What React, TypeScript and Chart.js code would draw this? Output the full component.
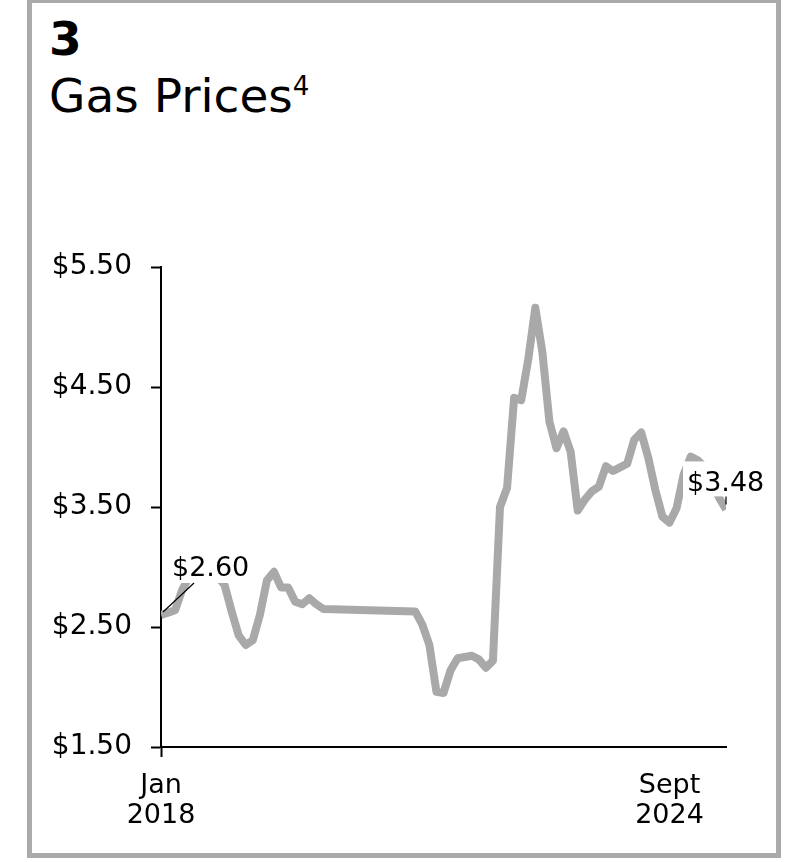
import React, { useEffect, useRef } from 'react';
import { Chart, registerables } from 'chart.js';

Chart.register(...registerables);

// Month index counted from Jan 2018 (0) to Sept 2024 (80)
const MONTHS = [
  0, 1, 2, 3, 4, 5, 6, 7, 8, 9, 10, 11, 12, 13, 14, 15, 16, 17, 18, 19, 20, 21, 22, 23,
  36, 37, 38, 39, 40, 41, 42, 43, 44, 45, 46, 47, 48, 49, 50, 51, 52, 53, 54, 55, 56, 57, 58,
  59, 60, 61, 62, 63, 64, 65, 66, 67, 68, 69, 70, 71, 72, 73, 74, 75, 76, 77, 78, 79, 80,
];
const PRICES = [
  2.6, 2.62, 2.64, 2.81, 2.92, 2.95, 2.96, 2.93, 2.92, 2.85, 2.63, 2.43, 2.35, 2.39, 2.6, 2.89,
  2.96, 2.83, 2.83, 2.71, 2.69, 2.74, 2.69, 2.65,
  2.63, 2.52, 2.35, 1.96, 1.95, 2.14, 2.24, 2.25, 2.26, 2.23, 2.16, 2.22, 3.5, 3.66, 4.41, 4.39,
  4.73, 5.16, 4.79, 4.21, 3.99, 4.13, 3.96,
  3.47, 3.56, 3.63, 3.67, 3.84, 3.8, 3.83, 3.86, 4.06, 4.12, 3.91, 3.64, 3.42, 3.37, 3.49, 3.77,
  3.92, 3.89, 3.83, 3.71, 3.58, 3.48,
];
const Y_TICKS = [1.5, 2.5, 3.5, 4.5, 5.5];
const X_TICK_MONTHS = [0, 72];
const X_TICK_LABELS = [
  ['Jan', '2018'],
  ['Sept', '2024'],
];
const START_LABEL = '$2.60';
const END_LABEL = '$3.48';

const FONT = "'DejaVu Sans', sans-serif";
const LINE_COLOR = '#a9a9a9';

const labelPlugin = {
  id: 'endLabels',
  afterDatasetsDraw(chart: any) {
    const ctx = chart.ctx as CanvasRenderingContext2D;
    const pts = chart.getDatasetMeta(0).data;
    const p0 = pts[0];
    const pN = pts[pts.length - 1];
    ctx.save();
    ctx.font = `27px ${FONT}`;
    ctx.textAlign = 'left';
    ctx.textBaseline = 'alphabetic';

    // start label
    const w0 = ctx.measureText(START_LABEL).width;
    ctx.fillStyle = '#fff';
    ctx.fillRect(p0.x + 7, p0.y - 68, w0 + 12, 36);
    ctx.strokeStyle = '#000';
    ctx.lineWidth = 1.2;
    ctx.beginPath();
    ctx.moveTo(p0.x + 2, p0.y - 3);
    ctx.lineTo(p0.x + 33, p0.y - 32);
    ctx.stroke();
    ctx.fillStyle = '#000';
    ctx.fillText(START_LABEL, p0.x + 11, p0.y - 39);

    // end label
    const w1 = ctx.measureText(END_LABEL).width;
    ctx.fillStyle = '#fff';
    ctx.fillRect(pN.x - 43, pN.y - 48, w1 + 10, 35);
    ctx.strokeStyle = '#000';
    ctx.beginPath();
    ctx.moveTo(pN.x, pN.y - 5);
    ctx.lineTo(pN.x, pN.y - 13);
    ctx.stroke();
    ctx.fillStyle = '#000';
    ctx.fillText(END_LABEL, pN.x - 39, pN.y - 18);
    ctx.restore();
  },
};

function GasChart() {
  const ref = useRef<HTMLCanvasElement | null>(null);
  useEffect(() => {
    if (!ref.current) return;
    const chart = new Chart(ref.current, {
      type: 'line',
      data: {
        datasets: [
          {
            data: MONTHS.map((m, i) => ({ x: m, y: PRICES[i] })),
            borderColor: LINE_COLOR,
            borderWidth: 8,
            pointRadius: 0,
            tension: 0,
            borderJoinStyle: 'round',
            fill: false,
          },
        ],
      },
      options: {
        responsive: false,
        animation: false,
        devicePixelRatio: 1,
        layout: { padding: { left: 40, right: 62, top: 267, bottom: 25 } },
        plugins: { legend: { display: false }, tooltip: { enabled: false } },
        scales: {
          x: {
            type: 'linear',
            min: 0,
            max: 80,
            afterBuildTicks: (s: any) => {
              s.ticks = X_TICK_MONTHS.map((v) => ({ value: v }));
            },
            afterFit: (s: any) => {
              s.height = 90;
            },
            grid: {
              drawOnChartArea: false,
              drawTicks: true,
              tickLength: 10,
              tickWidth: 2,
              tickColor: (c: any) => (c.tick && c.tick.value === 0 ? '#000' : 'rgba(0,0,0,0)'),
            },
            border: { display: true, color: '#000', width: 2 },
            ticks: {
              autoSkip: false,
              maxRotation: 0,
              padding: 14,
              color: '#000',
              font: { family: FONT, size: 27, lineHeight: 1.12 },
              callback: (_v: any, i: number) => X_TICK_LABELS[i],
            },
          },
          y: {
            min: 1.5,
            max: 5.5,
            afterBuildTicks: (s: any) => {
              s.ticks = Y_TICKS.map((v) => ({ value: v }));
            },
            afterFit: (s: any) => {
              s.width = 121;
            },
            grid: { drawOnChartArea: false, tickLength: 10, tickWidth: 2, tickColor: '#000' },
            border: { display: true, color: '#000', width: 2 },
            ticks: {
              padding: 19,
              color: '#000',
              font: { family: FONT, size: 28 },
              callback: (v: any) => '$' + Number(v).toFixed(2),
            },
          },
        },
      },
      plugins: [labelPlugin],
    } as any);
    return () => chart.destroy();
  }, []);
  return (
    <canvas
      ref={ref}
      width={788}
      height={862}
      style={{ position: 'fixed', left: 0, top: 0, width: 788, height: 862 }}
    />
  );
}

export default function App() {
  return (
    <div style={{ position: 'fixed', left: 0, top: 0, width: 788, height: 862, background: '#fff' }}>
      <div
        style={{
          position: 'absolute',
          left: 27,
          top: -2,
          width: 754,
          height: 860,
          border: '5px solid #aaaaaa',
          boxSizing: 'border-box',
        }}
      />
      <div
        style={{
          position: 'absolute',
          left: 49,
          top: 15,
          fontFamily: FONT,
          fontWeight: 'bold',
          fontSize: 47,
          lineHeight: '47px',
          color: '#000',
        }}
      >
        3
      </div>
      <div
        style={{
          position: 'absolute',
          left: 49,
          top: 72,
          fontFamily: FONT,
          fontSize: 47,
          lineHeight: '47px',
          color: '#000',
          whiteSpace: 'nowrap',
        }}
      >
        Gas Prices
        <span style={{ fontSize: 26, position: 'relative', top: -17 }}>4</span>
      </div>
      <GasChart />
    </div>
  );
}
